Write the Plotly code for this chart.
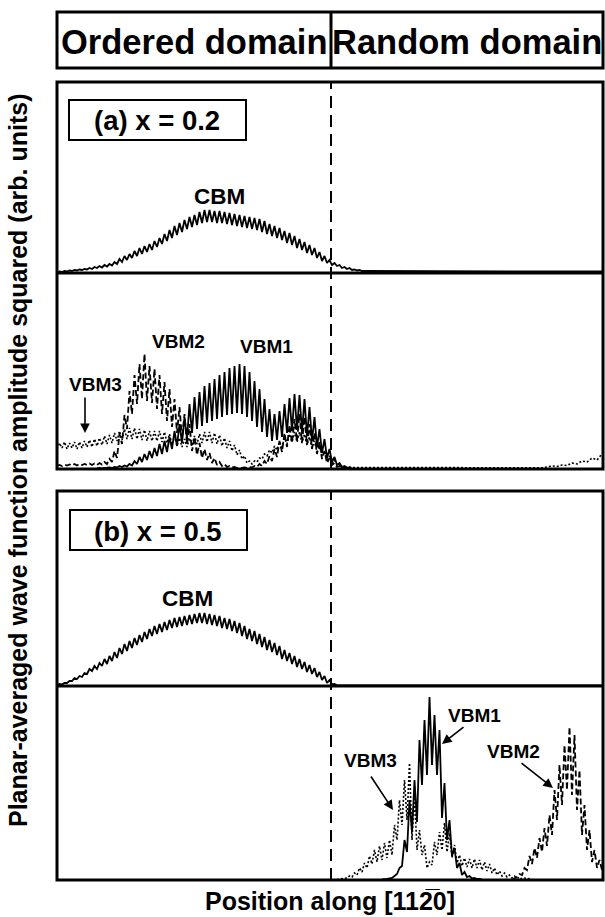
import numpy as np
import plotly.graph_objects as go

# ---------------- data (arb. units) ----------------
STEP = 2.5              # sampling interval along the position axis
X_MAX = 546.0           # length of the supercell (arb. units)
DOMAIN_BOUNDARY = 274.0 # ordered | random interface

HEADERS = ["Ordered domain", "Random domain"]
PANEL_LABELS = ["(a) x = 0.2", "(b) x = 0.5"]
X_TITLE = "Position along [112\u03050]"
Y_TITLE = "Planar-averaged wave function amplitude squared (arb. units)"

# (a) x = 0.2 -- CBM (alternating trough / peak samples)
CBM_A_X0 = 0.0
CBM_A = [0.5, 1.5, 1, 2, 1.5, 2.5, 2, 3, 2.5, 3.5, 3, 4, 3.5, 5, 4, 6, 5, 7, 5.5, 8,
         6.5, 9, 7.5, 11, 9, 14, 11, 17, 13, 19, 15, 22, 17, 25, 19, 27, 21, 29, 23, 32,
         26, 35, 29, 39, 32, 43, 35, 47, 38, 50, 41, 53, 44, 56, 46, 58, 48, 61, 50, 63,
         51, 63, 51, 62, 50, 62, 50, 61, 49, 60, 48, 59, 47, 58, 46, 57, 45, 56, 44, 55,
         43, 54, 41, 52, 39, 49, 37, 47, 35, 45, 33, 42, 30, 40, 28, 37, 25, 34, 23, 31,
         20, 28, 18, 25, 15, 21, 12, 17, 10, 13, 8, 10, 7, 8, 5, 6, 4, 5, 3, 3.5,
         2.5, 3, 2, 2, 1.5]
CBM_A_TAIL_X = [320.0, 546.0]
CBM_A_TAIL_Y = [1.5, 1.5]

# (a) VBM1 (solid)
VBM1_A_X0 = 40.0
VBM1_A = [0.5, 1, 0.5, 1, 0.8, 1.5, 1, 2, 1.5, 3, 2, 3.5, 2.5, 5, 3.5, 8, 5, 12, 7, 15,
          9, 18, 11, 21, 13, 25, 15, 28, 17, 32, 20, 38, 23, 45, 26, 52, 30, 65, 36, 72,
          40, 77, 43, 83, 46, 86, 48, 90, 50, 94, 52, 97, 54, 101, 55, 103, 56, 105, 55, 103,
          52, 97, 48, 88, 42, 80, 37, 70, 32, 60, 28, 55, 29, 58, 32, 65, 36, 71, 38, 75,
          39, 74, 37, 70, 33, 62, 28, 52, 22, 40, 16, 30, 11, 20, 7, 12, 4, 6, 2, 3,
          1, 1.5, 0.5]

# (a) VBM2 (dashed)
VBM2_A_X0 = 0.0
VBM2_A = [3, 4, 3, 4.5, 3.5, 4.5, 3.5, 5, 3.5, 5, 4, 5, 4, 5.5, 4, 5.5, 4, 6, 4.5, 7,
          5, 10, 7, 18, 11, 35, 25, 54, 40, 78, 55, 94, 65, 105, 70, 115, 68, 103, 66, 100,
          60, 94, 55, 87, 48, 80, 42, 70, 36, 62, 30, 55, 24, 45, 18, 32, 14, 26, 11, 20,
          9, 16, 6, 11, 4, 7, 3, 5, 2, 3, 1.5, 2, 1, 1.5, 1, 1.5, 1, 2, 1.5, 3,
          2, 5, 3, 8, 5, 13, 8, 20, 12, 28, 17, 36, 22, 44, 26, 50, 28, 55, 27, 52,
          24, 45, 20, 36, 15, 27, 10, 18, 6, 11, 4, 6, 2, 3, 1, 1.5, 0.5]

# (a) VBM3 (dotted)
VBM3_A_X0 = 0.0
VBM3_A = [20, 26, 21, 27, 20, 26, 21, 27, 20, 27, 21, 28, 22, 29, 22, 30, 23, 31, 24, 33,
          25, 34, 26, 36, 28, 38, 29, 40, 30, 41, 30, 41, 30, 40, 29, 39, 28, 38, 28, 38,
          28, 38, 27, 37, 26, 35, 24, 33, 23, 31, 22, 30, 22, 31, 23, 33, 25, 35, 26, 37,
          27, 37, 26, 36, 25, 34, 23, 31, 21, 28, 18, 24, 14, 19, 10, 13, 6, 8, 5, 8,
          7, 11, 10, 15, 13, 19, 16, 23, 19, 27, 22, 31, 25, 35, 27, 37, 27, 37, 26, 35,
          24, 32, 21, 28, 17, 23, 13, 18, 9, 13, 6, 9, 4, 5, 2, 3, 1.5, 2, 1.5, 1.5, 1.2]
VBM3_A_TAIL_X = [305.0, 485.0, 490, 495, 500, 505, 510, 515, 520, 525, 530, 535, 540, 545]
VBM3_A_TAIL_Y = [1.2, 1.2, 2, 3, 2.5, 4, 3.5, 6, 5, 8, 7, 11, 9, 15]

# (b) x = 0.5 -- CBM (solid)
CBM_B_X0 = 0.0
CBM_B = [1, 2, 1.5, 3, 3, 5, 5, 8, 7, 10, 9, 13, 12, 17, 15, 20, 17, 23, 20, 27,
         22, 30, 25, 34, 28, 38, 32, 42, 35, 45, 38, 48, 41, 51, 44, 54, 47, 57, 50, 60,
         52, 62, 54, 64, 56, 66, 58, 68, 59, 69, 60, 70, 61, 71, 62, 72, 63, 73, 63, 73,
         62, 72, 61, 71, 60, 70, 58, 68, 57, 67, 55, 65, 53, 63, 50, 60, 47, 57, 45, 55,
         42, 52, 39, 49, 36, 46, 34, 43, 31, 40, 27, 36, 25, 33, 22, 30, 19, 27, 17, 24,
         14, 21, 12, 18, 9, 14, 6, 10, 3, 6, 1.5, 2, 0.8]
CBM_B_TAIL_X = [280.0, 546.0]
CBM_B_TAIL_Y = [0.6, 0.6]

# (b) VBM1 (solid)
VBM1_B_X0 = 325.0
VBM1_B = [0.5, 0.5, 1, 1.5, 2, 4, 6, 12, 14, 40, 28, 80, 48, 100, 58, 140, 95, 160, 105, 183,
          115, 165, 105, 150, 62, 97, 40, 60, 24, 32, 12, 17, 5, 8, 3, 4, 1.5, 2, 1, 1, 0.5]

# (b) VBM2 (dashed)
VBM2_B_X0 = 455.0
VBM2_B = [0.5, 2, 3, 6, 5, 12, 10, 24, 16, 32, 22, 42, 28, 52, 34, 65, 45, 90, 60, 115,
          75, 135, 90, 153, 85, 145, 70, 110, 45, 75, 30, 50, 18, 30, 12, 20, 10, 13]

# (b) VBM3 (dotted)
VBM3_B_X0 = 280.0
VBM3_B = [0.5, 1, 1, 2, 2, 4, 3, 7, 5, 12, 8, 17, 12, 24, 16, 30, 18, 34, 20, 37,
          22, 40, 25, 55, 40, 80, 55, 100, 60, 117, 40, 85, 30, 50, 25, 35, 12, 18, 15, 38,
          25, 48, 30, 57, 28, 47, 22, 35, 17, 25, 14, 22, 13, 21, 12, 21, 12, 20, 10, 18,
          9, 16, 7, 12, 5, 9, 4, 7, 3, 5, 2, 4, 1.5, 3, 1, 2, 1, 1.5, 0.5]

# ---------------- layout geometry (pixels of the 605x917 page) ----------------
W, H = 605, 917
L, R = 57, 603
HDR_T, HDR_B, HDR_MID = 12, 68, 331
A_T, A_MID, A_B = 82, 273, 469
B_T, B_MID, B_B = 491, 686, 880

def px(x):
    return x / W

def py(y):
    return 1 - y / H

FONT = "Liberation Sans, Arial, Helvetica, sans-serif"

fig = go.Figure()

def seg(x0, ys):
    return x0 + STEP * np.arange(len(ys)), np.asarray(ys, dtype=float)

def add_curve(axis_n, xs, ys, dash, width=1.8):
    sfx = "" if axis_n == 1 else str(axis_n)
    fig.add_trace(go.Scatter(x=xs, y=ys, mode="lines",
                             line=dict(color="black", width=width, dash=dash),
                             xaxis="x" + sfx, yaxis="y" + sfx,
                             hoverinfo="skip", showlegend=False))

DOT = "2px,2px"
DASH = "6px,3px"

x, y = seg(CBM_A_X0, CBM_A)
add_curve(1, np.concatenate([x, CBM_A_TAIL_X]), np.concatenate([y, CBM_A_TAIL_Y]), "solid")
x, y = seg(VBM3_A_X0, VBM3_A)
add_curve(2, np.concatenate([x, VBM3_A_TAIL_X]), np.concatenate([y, VBM3_A_TAIL_Y]), DOT, 1.6)
x, y = seg(VBM2_A_X0, VBM2_A)
add_curve(2, x, y, DASH)
x, y = seg(VBM1_A_X0, VBM1_A)
add_curve(2, x, y, "solid")
x, y = seg(CBM_B_X0, CBM_B)
add_curve(3, np.concatenate([x, CBM_B_TAIL_X]), np.concatenate([y, CBM_B_TAIL_Y]), "solid")
x, y = seg(VBM3_B_X0, VBM3_B)
add_curve(4, x, y, DOT, 1.6)
x, y = seg(VBM2_B_X0, VBM2_B)
add_curve(4, x, y, DASH)
x, y = seg(VBM1_B_X0, VBM1_B)
add_curve(4, x, y, "solid")

subplots = [(1, A_MID, A_T, 191), (2, A_B, A_MID, 196), (3, B_MID, B_T, 195), (4, B_B, B_MID, 194)]
lay = {}
for n, ybot, ytop, ymax in subplots:
    sfx = "" if n == 1 else str(n)
    lay["xaxis" + sfx] = dict(domain=[px(L), px(R)], range=[0, X_MAX], visible=False,
                              anchor="y" + sfx)
    lay["yaxis" + sfx] = dict(domain=[py(ybot), py(ytop)], range=[0, ymax], visible=False,
                              anchor="x" + sfx)

shapes = []
def rect(x0, y0, x1, y1, w=3):
    shapes.append(dict(type="rect", xref="paper", yref="paper", x0=px(x0), x1=px(x1),
                       y0=py(y1), y1=py(y0), line=dict(color="black", width=w),
                       fillcolor="rgba(0,0,0,0)", layer="above"))
def hline(x0, x1, y, w=3):
    shapes.append(dict(type="line", xref="paper", yref="paper", x0=px(x0), x1=px(x1),
                       y0=py(y), y1=py(y), line=dict(color="black", width=w), layer="above"))

rect(L, HDR_T, R, HDR_B)
shapes.append(dict(type="line", xref="paper", yref="paper", x0=px(HDR_MID), x1=px(HDR_MID),
                   y0=py(HDR_B), y1=py(HDR_T), line=dict(color="black", width=3)))
rect(L, A_T, R, A_B)
hline(L, R, A_MID)
rect(L, B_T, R, B_B)
hline(L, R, B_MID)
for ytop, ybot in [(A_T, A_B), (B_T, B_B)]:
    shapes.append(dict(type="line", xref="x", yref="paper", x0=DOMAIN_BOUNDARY,
                       x1=DOMAIN_BOUNDARY, y0=py(ybot), y1=py(ytop),
                       line=dict(color="black", width=2, dash="12px,7px")))
rect(69, 100, 246, 140, 2)
rect(70, 510, 247, 550, 2)

ann = []
def text(t, x, y, size, angle=0):
    ann.append(dict(text=t, x=px(x), y=py(y), xref="paper", yref="paper",
                    xanchor="center", yanchor="middle", showarrow=False, textangle=angle,
                    font=dict(family=FONT, size=size, color="black", weight="bold")))
def arrow(x0, y0, x1, y1):
    ann.append(dict(text="", x=px(x1), y=py(y1), xref="paper", yref="paper",
                    ax=x0 - x1, ay=y0 - y1, axref="pixel", ayref="pixel",
                    showarrow=True, arrowhead=2, arrowsize=1.2, arrowwidth=1.6,
                    arrowcolor="black"))

text(HEADERS[0], 194, 42, 34.5)
text(HEADERS[1], 467, 42, 34.5)
text(PANEL_LABELS[0], 157, 121, 27.5)
text(PANEL_LABELS[1], 158, 531, 27.5)
text("CBM", 219, 196, 22.5)
text("CBM", 187, 598, 22.5)
text("VBM2", 178, 341, 19)
text("VBM1", 266, 346, 19)
text("VBM3", 95, 385, 19)
arrow(85, 396, 85, 433)
text("VBM1", 474, 715, 19)
arrow(465, 726, 442, 744)
text("VBM3", 370, 760, 19)
arrow(370, 775, 393, 810)
text("VBM2", 513, 751, 19)
arrow(520, 762, 553, 788)
text(X_TITLE, 330, 901, 25)
text(Y_TITLE, 18, 460, 25, -90)

fig.update_layout(width=W, height=H, margin=dict(l=0, r=0, t=0, b=0),
                  paper_bgcolor="white", plot_bgcolor="white",
                  shapes=shapes, annotations=ann, **lay)

fig.write_html("out.html", config={"displayModeBar": False, "staticPlot": True},
               post_script="document.body.style.margin='0';document.body.style.overflow='hidden';")
